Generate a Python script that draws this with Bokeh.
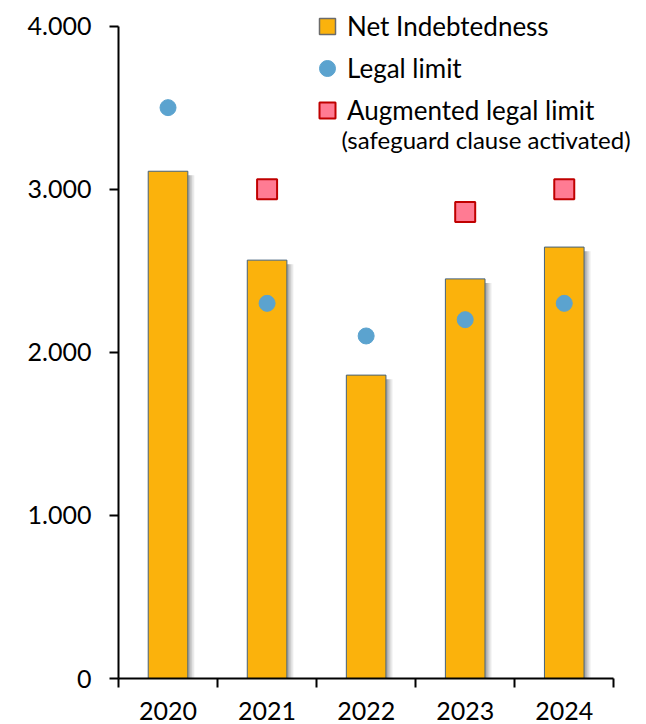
from bokeh.plotting import figure
from bokeh.models import (ColumnDataSource, Range1d, FixedTicker, Legend, LegendItem, Label)
from bokeh.embed import file_html
from bokeh.resources import INLINE

years = ["2020", "2021", "2022", "2023", "2024"]
net_indebtedness = [3110, 2565, 1860, 2450, 2645]
legal_limit = [3500, 2300, 2100, 2200, 2300]
augmented_years = ["2021", "2023", "2024"]
augmented_limit = [3000, 2860, 3000]
y_ticks = [0, 1000, 2000, 3000, 4000]
y_tick_labels = ["0", "1.000", "2.000", "3.000", "4.000"]

FONT = "Lato"
xpos = [i + 0.5 for i in range(len(years))]
aug_x = [years.index(y) + 0.5 for y in augmented_years]

src = ColumnDataSource(dict(x=xpos, net=net_indebtedness, legal=legal_limit,
                            xs1=[v + 0.025 for v in xpos], xs2=[v + 0.045 for v in xpos],
                            xs3=[v + 0.065 for v in xpos],
                            shtop=[v - 25 for v in net_indebtedness]))
aug = ColumnDataSource(dict(x=aug_x, y=augmented_limit))

p = figure(width=646, height=724, output_backend="svg", toolbar_location=None,
           x_range=Range1d(0, 5.3), y_range=Range1d(0, 4120),
           min_border_left=118, min_border_right=3, min_border_top=6, min_border_bottom=46)
p.extra_y_ranges = {"hidden": Range1d(100000, 200000)}
p.outline_line_color = None
p.grid.grid_line_color = None
p.background_fill_color = "white"

# shadows
for col, a in (("xs3", 0.12), ("xs2", 0.18), ("xs1", 0.26)):
    p.vbar(x=col, top="shtop", bottom=0, width=0.4, source=src,
           fill_color="#555555", fill_alpha=a, line_color=None)

bars = p.vbar(x="x", top="net", bottom=0, width=0.4, source=src,
              fill_color="#FBB20C", line_color="#44617B", line_width=1)
circ = p.scatter(x="x", y="legal", source=src, marker="circle", size=16,
                 fill_color="#5BA3CF", line_color="#5BA3CF")
sq = p.scatter(x="x", y="y", source=aug, marker="square", size=20,
               fill_color="#FF7B93", line_color="#C00000", line_width=2)
# legend key for the bars: drawn on a hidden range, so it only shows in the legend
bar_key = p.scatter(x="x", y="net", source=src, y_range_name="hidden", marker="square",
                    size=18, fill_color="#FBB20C", line_color="#6B6B6B", line_width=1.5)

# x axis
xa = p.xaxis[0]
xa.ticker = FixedTicker(ticks=xpos, minor_ticks=list(range(len(years) + 1)))
xa.major_label_overrides = {x: y for x, y in zip(xpos, years)}
xa.bounds = (0, len(years))
xa.major_tick_out = 0
xa.major_tick_in = 0
xa.minor_tick_out = 9
xa.minor_tick_in = 0
xa.minor_tick_line_color = "black"
xa.minor_tick_line_width = 2
xa.axis_line_color = "black"
xa.axis_line_width = 2
xa.major_label_standoff = 14
xa.major_label_text_font = FONT
xa.major_label_text_font_size = "25px"
xa.major_label_text_color = "black"

ya = p.yaxis[0]
ya.ticker = FixedTicker(ticks=y_ticks, minor_ticks=[])
ya.major_label_overrides = {t: l for t, l in zip(y_ticks, y_tick_labels)}
ya.bounds = (y_ticks[0], y_ticks[-1])
ya.major_tick_out = 9
ya.major_tick_in = 0
ya.major_tick_line_width = 2
ya.axis_line_width = 2
ya.major_label_standoff = 18
ya.major_label_text_font = FONT
ya.major_label_text_font_size = "25px"
ya.major_label_text_color = "black"

legend = Legend(items=[LegendItem(label="Net Indebtedness", renderers=[bar_key]),
                       LegendItem(label="Legal limit", renderers=[circ]),
                       LegendItem(label="Augmented legal limit", renderers=[sq])],
                location=(189, 547), padding=0, margin=0, spacing=-2,
                glyph_width=40, glyph_height=42, label_standoff=0,
                label_text_font=FONT, label_text_font_size="26px",
                label_text_color="black",
                border_line_color=None, background_fill_alpha=0)
p.add_layout(legend, "center")

p.add_layout(Label(x=2.25, y=3305, text="(safeguard clause activated)",
                   text_font=FONT, text_font_size="24px", text_baseline="middle",
                   text_color="black"))

open("out.html", "w").write(file_html(p, INLINE))
